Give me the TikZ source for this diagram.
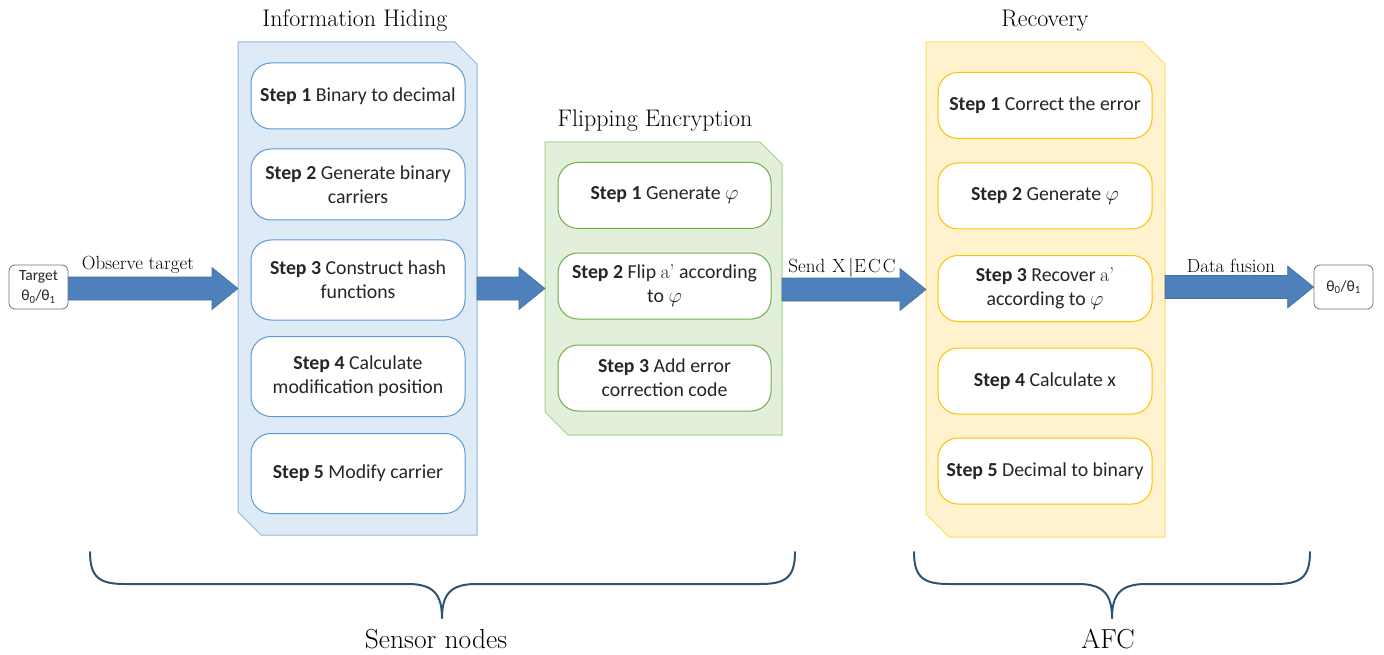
\documentclass[tikz,border=0pt]{standalone}
\usepackage{fontspec}
\newfontfamily\calibri{Carlito}
\usetikzlibrary{calc}

\definecolor{ihfill}{HTML}{DEEBF7}
\definecolor{ihline}{HTML}{8FB6E2}
\definecolor{ihbox}{HTML}{5B9BD5}
\definecolor{fefill}{HTML}{E2EFDA}
\definecolor{feline}{HTML}{A9D18E}
\definecolor{febox}{HTML}{70AD47}
\definecolor{rcfill}{HTML}{FFF2CC}
\definecolor{rcline}{HTML}{FFD966}
\definecolor{rcbox}{HTML}{FFC000}
\definecolor{arrowfill}{HTML}{4E80BC}
\definecolor{arrowline}{HTML}{41719C}
\definecolor{bracecol}{HTML}{2F5472}
\definecolor{steptext}{HTML}{262626}

% block arrow from the first point to the second, at the height of the second
\newcommand\blockarrow[2]{%
  \path[bigarrow] let \p1=#1, \p2=#2 in
    (\x1,\y2+11.5pt) -- (\x2-26pt,\y2+11.5pt) -- (\x2-26pt,\y2+21pt) -- (\x2,\y2)
    -- (\x2-26pt,\y2-21pt) -- (\x2-26pt,\y2-11.5pt) -- (\x1,\y2-11.5pt) -- cycle;}

% panel outline with cut north-east and south-west corners
\newcommand\panelshape[3]{%
  \path[fill=#2, draw=#3, line width=1pt]
    (#1.north west) -- ([xshift=-22pt]#1.north east) -- ([yshift=-22pt]#1.north east)
    -- (#1.south east) -- ([xshift=23pt]#1.south west) -- ([yshift=23pt]#1.south west) -- cycle;}

\begin{document}
\begin{tikzpicture}[x=1pt,y=-1pt,
  panel/.style={rectangle, draw=none, inner sep=0pt, outer sep=0pt},
  stepbox/.style={rectangle, rounded corners=20pt, fill=white, line width=1pt,
    minimum width=214pt, minimum height=66pt, inner sep=2pt, outer sep=0pt,
    align=center, text=steptext, font=\calibri\fontsize{19.8}{24}\selectfont},
  ihstep/.style={stepbox, draw=ihbox},
  festep/.style={stepbox, draw=febox},
  rcstep/.style={stepbox, draw=rcbox},
  endbox/.style={rectangle, rounded corners=6pt, draw=black!55, fill=white, line width=0.8pt,
    minimum width=59pt, minimum height=44pt, inner sep=1pt, align=center,
    text=steptext, font=\calibri\fontsize{15.5}{20}\selectfont},
  title/.style={font=\fontsize{24}{28}\selectfont, inner sep=0pt},
  arrowlabel/.style={font=\fontsize{19}{22}\selectfont, inner sep=0pt},
  bottomlabel/.style={font=\fontsize{27.5}{32}\selectfont, inner sep=0pt},
  bigarrow/.style={fill=arrowfill, draw=arrowline, line width=0.6pt},
  bracestyle/.style={draw=bracecol, line width=2pt, line cap=round}
]
\useasboundingbox (0,0) rectangle (1384,655);

% panels
\node[panel, minimum width=239pt, minimum height=493pt] (ih) at (357.5,288.5) {};
\node[panel, minimum width=237pt, minimum height=293pt] (fe) at (663.5,288.5) {};
\node[panel, minimum width=239pt, minimum height=495pt] (rc) at (1045.5,289.5) {};
\panelshape{ih}{ihfill}{ihline}
\panelshape{fe}{fefill}{feline}
\panelshape{rc}{rcfill}{rcline}

% panel titles
\node[title] (ihtitle) at (355,21) {Information Hiding};
\node[title] (fetitle) at (655,121) {Flipping Encryption};
\node[title] (rctitle) at (1045,21) {Recovery};

% information hiding steps
\node[ihstep, minimum height=66pt] (ih1) at (358,96) {\textbf{Step 1} Binary to decimal};
\node[ihstep, minimum height=71pt] (ih2) at (358,184.5) {\textbf{Step 2} Generate binary\\carriers};
\node[ihstep, minimum height=80pt] (ih3) at (358,280) {\textbf{Step 3} Construct hash\\functions};
\node[ihstep, minimum height=80pt] (ih4) at (358,376.5) {\textbf{Step 4} Calculate\\modification position};
\node[ihstep, minimum height=80pt] (ih5) at (358,473.5) {\textbf{Step 5} Modify carrier};

% flipping encryption steps
\node[festep, minimum width=213pt] (fe1) at (664.5,195.5) {\textbf{Step 1} Generate $\varphi$};
\node[festep, minimum width=213pt] (fe2) at (664.5,286) {\textbf{Step 2} Flip {\rmfamily a'} according\\to $\varphi$};
\node[festep, minimum width=213pt] (fe3) at (664.5,378) {\textbf{Step 3} Add error\\correction code};

% recovery steps
\node[rcstep] (rc1) at (1045,105.5) {\textbf{Step 1} Correct the error};
\node[rcstep] (rc2) at (1045,196) {\textbf{Step 2} Generate $\varphi$};
\node[rcstep] (rc3) at (1045,288.5) {\textbf{Step 3} Recover {\rmfamily a'}\\according to $\varphi$};
\node[rcstep] (rc4) at (1045,381) {\textbf{Step 4} Calculate x};
\node[rcstep] (rc5) at (1045,471) {\textbf{Step 5} Decimal to binary};

% end points
\node[endbox] (tgt) at (38.5,287) {Target\\θ\textsubscript{0}/θ\textsubscript{1}};
\node[endbox] (out) at (1343.5,287) {θ\textsubscript{0}/θ\textsubscript{1}};

% block arrows
\blockarrow{(tgt.east)}{(ih.west)}
\blockarrow{(ih.east)}{(fe.west)}
\blockarrow{(fe.east)}{(rc.west)}
\blockarrow{(rc.east)}{(out.west)}

% arrow labels
\node[arrowlabel] (obs) at (138,265) {Observe target};
\node[arrowlabel] (send) at (842,268) {Send\hspace{7pt}X\hspace{3pt}|\hspace{0.5pt}E\hspace{2pt}C\hspace{2pt}C};
\node[arrowlabel] (fus) at (1231,266) {Data fusion};

% braces
\draw[bracestyle] (90,552) .. controls (90,578) and (100,584) .. (125,584)
  -- (408,584) .. controls (433,584) and (442,594) .. (442,618);
\draw[bracestyle] (795,552) .. controls (795,578) and (785,584) .. (760,584)
  -- (476,584) .. controls (451,584) and (442,594) .. (442,618);
\draw[bracestyle] (914,552) .. controls (914,578) and (924,584) .. (949,584)
  -- (1078,584) .. controls (1103,584) and (1112,594) .. (1112,618);
\draw[bracestyle] (1310,552) .. controls (1310,578) and (1300,584) .. (1275,584)
  -- (1146,584) .. controls (1121,584) and (1112,594) .. (1112,618);

\node[bottomlabel] (sensor) at (436,639) {Sensor nodes};
\node[bottomlabel] (afc) at (1108,639) {AFC};
\end{tikzpicture}
\end{document}
